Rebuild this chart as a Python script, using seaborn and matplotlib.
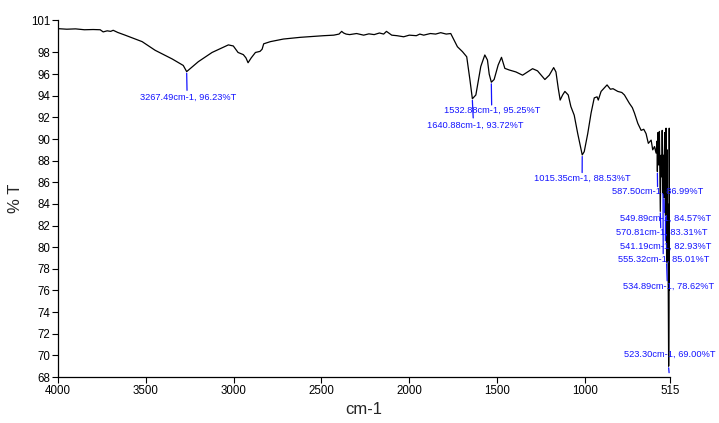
import matplotlib
matplotlib.use("Agg")
import matplotlib.pyplot as plt
import seaborn as sns
import pandas as pd

# ---- data ----
wavenumber = [4000, 3950, 3900, 3850, 3800, 3760, 3743, 3720, 3700, 3686, 3660, 3618, 3521, 3447,
              3350, 3287, 3267.49,
              3201, 3123, 3030, 3002, 2975, 2945, 2930, 2918, 2900, 2876, 2850, 2838, 2829,
              2791, 2717, 2620, 2488, 2430, 2400, 2385, 2374, 2360, 2340, 2300, 2260, 2230, 2200,
              2170, 2146, 2130, 2100, 2070, 2032, 2000, 1960, 1940, 1918, 1880, 1850, 1821, 1790,
              1764, 1726, 1697, 1673, 1655, 1640.88, 1621, 1593, 1570, 1555, 1545,
              1532.88, 1517, 1494, 1475, 1456, 1431, 1393, 1355, 1327, 1298, 1270, 1228, 1203,
              1178, 1165, 1152, 1141, 1127, 1114, 1095, 1080, 1061, 1041, 1015.35, 1004, 984,
              965, 947, 931, 924, 908, 874, 855, 840, 813, 790, 775, 747, 730, 718, 699, 680, 665,
              652, 639, 623, 614, 604, 595, 590, 587.50, 584, 580, 576, 573, 570.81, 567, 563,
              560, 557, 555.32, 552.5, 549.89, 546, 543.5, 541.19, 538, 536.5, 534.89, 532, 530,
              528, 526, 523.30, 521, 520, 518, 516, 515]
transmittance = [100.2, 100.15, 100.18, 100.1, 100.12, 100.1, 99.9, 100.0, 99.95, 100.05, 99.85, 99.6,
                 99.0, 98.2, 97.4, 96.8, 96.23,
                 97.15, 98.0, 98.7, 98.6, 98.0, 97.8, 97.5, 97.05, 97.5, 98.0, 98.1, 98.3, 98.8,
                 99.0, 99.24, 99.4, 99.55, 99.6, 99.7, 99.95, 99.8, 99.7, 99.65, 99.75, 99.6, 99.72,
                 99.65, 99.8, 99.7, 99.95, 99.6, 99.55, 99.45, 99.6, 99.55, 99.7, 99.6, 99.75, 99.7,
                 99.83, 99.7, 99.75, 98.53, 98.07, 97.6, 95.5, 93.72, 94.07, 96.7, 97.77, 97.3,
                 96.0, 95.25, 95.5, 96.84, 97.55, 96.53, 96.38, 96.2, 95.9, 96.2, 96.5, 96.3, 95.5,
                 95.9, 96.6, 96.2, 94.7, 93.6, 94.07, 94.4, 94.07, 93.0, 92.2, 90.5, 88.53, 88.83,
                 90.5, 92.4, 93.8, 93.9, 93.6, 94.4, 95.0, 94.6, 94.65, 94.4, 94.3, 94.07, 93.3,
                 92.9, 92.4, 91.45, 90.8, 90.9, 90.5, 89.6, 89.9, 89.0, 89.3, 88.7, 89.8, 86.99,
                 90.6, 87.6, 90.7, 86.0, 83.31, 88.5, 86.5, 90.8, 87.0, 85.01, 88.5, 84.57, 90.6,
                 86.0, 82.93, 91.0, 85.0, 78.62, 89.0, 80.0, 84.0, 77.0, 69.00, 74.0, 91.0, 80.0,
                 88.0, 76.0]

peak_wn = [3267.49, 1532.88, 1640.88, 1015.35, 587.50, 549.89, 570.81, 541.19, 555.32, 534.89, 523.30]
peak_T = [96.23, 95.25, 93.72, 88.53, 86.99, 84.57, 83.31, 82.93, 85.01, 78.62, 69.00]
label_wn = [3261, 1527, 1625, 1017, 584, 543, 563, 543, 552, 524, 515]
label_T = [93.88, 92.68, 91.3, 86.4, 85.13, 82.7, 81.34, 80.11, 78.88, 76.35, 70.1]
line_end_T = [94.5, 93.15, 91.95, 86.9, 85.6, 83.2, 81.8, 80.6, 79.4, 76.9, 68.4]

x_ticks = [4000, 3500, 3000, 2500, 2000, 1500, 1000, 515]
y_ticks = [68, 70, 72, 74, 76, 78, 80, 82, 84, 86, 88, 90, 92, 94, 96, 98, 101]

# ---- plot ----
sns.set_theme(style="ticks")
plt.rcParams['font.family'] = ['Liberation Sans', 'DejaVu Sans']

fig = plt.figure(figsize=(7.19, 4.23), dpi=100)
ax = fig.add_axes([0.0807, 0.1087, 0.8513, 0.844])

df = pd.DataFrame({"wn": wavenumber, "T": transmittance})
sns.lineplot(data=df, x="wn", y="T", ax=ax, color="black", lw=0.9,
             estimator=None, sort=False)

blue = "#1414ff"
for pw, pt, lw_, lt, le in zip(peak_wn, peak_T, label_wn, label_T, line_end_T):
    ax.plot([pw, pw - (pw - lw_) * 0.3 if abs(pw - lw_) < 20 else pw - 4],
            [pt - 0.15, le], color=blue, lw=0.9, clip_on=False)
    ax.text(lw_, lt, f"{pw:.2f}cm-1, {pt:.2f}%T", color=blue, fontsize=6.7,
            ha="center", va="center", clip_on=False)

ax.set_xlim(4000, 515)
ax.set_ylim(68, 101)
ax.set_xticks(x_ticks)
ax.set_xticklabels([str(t) for t in x_ticks])
ax.set_yticks(y_ticks)
ax.set_yticklabels([str(t) for t in y_ticks])
ax.tick_params(axis="both", labelsize=8.3, length=4, width=0.8, pad=1.5, colors="black")
ax.set_xlabel("cm-1", fontsize=12, labelpad=4)
ax.set_ylabel("% T", fontsize=12, labelpad=6)
for s in ["top", "right"]:
    ax.spines[s].set_visible(False)
for s in ["left", "bottom"]:
    ax.spines[s].set_linewidth(0.9)
    ax.spines[s].set_color("black")

fig.savefig("out.png", dpi=100)
